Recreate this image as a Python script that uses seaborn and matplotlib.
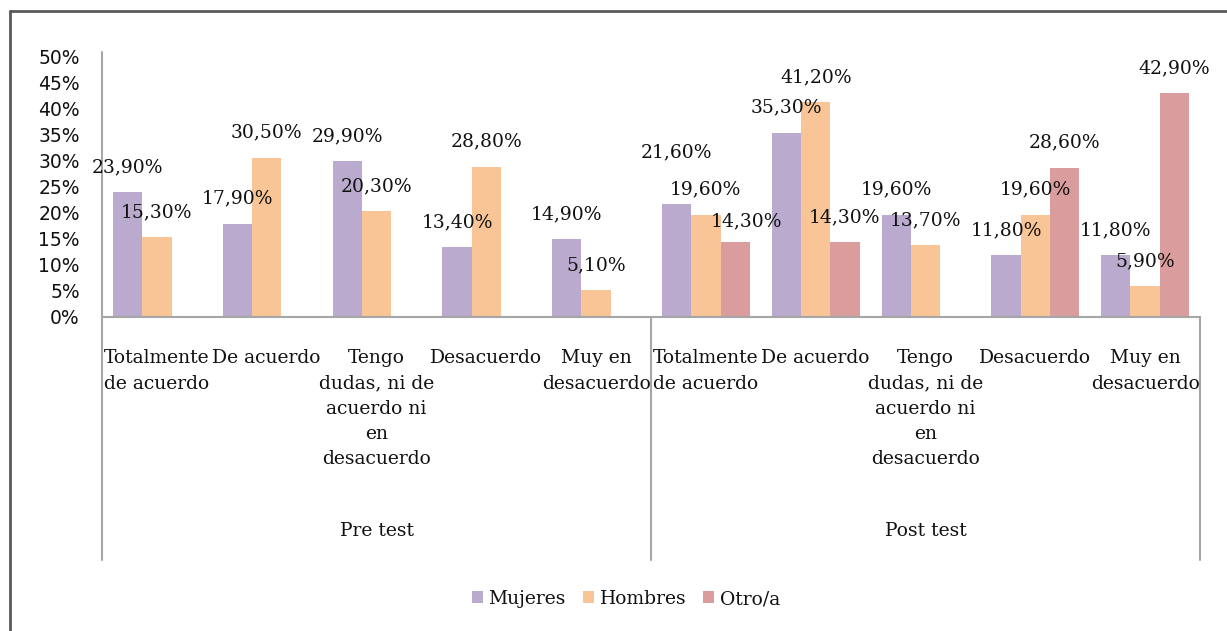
import matplotlib
matplotlib.use('Agg')
import matplotlib.pyplot as plt
import seaborn as sns
import pandas as pd
import numpy as np
from matplotlib.lines import Line2D

# datos
categorias = ['Totalmente\nde acuerdo', 'De acuerdo', 'Tengo\ndudas, ni de\nacuerdo ni\nen\ndesacuerdo',
              'Desacuerdo', 'Muy en\ndesacuerdo']
fases = ['Pre test', 'Post test']
series = ['Mujeres', 'Hombres', 'Otro/a']
mujeres = [23.9, 17.9, 29.9, 13.4, 14.9, 21.6, 35.3, 19.6, 11.8, 11.8]
hombres = [15.3, 30.5, 20.3, 28.8, 5.1, 19.6, 41.2, 13.7, 19.6, 5.9]
otro = [None, None, None, None, None, 14.3, 14.3, None, 28.6, 42.9]
colores = ['#B9AACE', '#FAC596', '#DA9C9C']

# etiquetas que en el original se movieron a mano (serie, posicion) -> desplazamiento en puntos
ajustes = {('Mujeres', 5): (0, 19), ('Otro/a', 5): (8, -3)}

filas = []
for i in range(10):
    for s, vals in zip(series, [mujeres, hombres, otro]):
        filas.append({'pos': i, 'serie': s, 'valor': vals[i]})
df = pd.DataFrame(filas)

sns.set_style('white')
plt.rcParams['font.family'] = ['DejaVu Serif']
plt.rcParams['text.color'] = '#111111'
plt.rcParams['ytick.color'] = '#111111'

fig = plt.figure(figsize=(12.27, 6.31), dpi=100)
ax = fig.add_axes([102 / 1227, (631 - 317) / 631, 1098 / 1227, 261 / 631])

ancho = 0.8 / 3
for k, (s, c) in enumerate(zip(series, colores)):
    sub = df[(df['serie'] == s) & df['valor'].notna()]
    x = sub['pos'].to_numpy() + (k - 1) * ancho
    ax.bar(x, sub['valor'].to_numpy() / 100, width=ancho, color=c, label=s, linewidth=0)
    for p, xi, v in zip(sub['pos'], x, sub['valor']):
        dx, dy = ajustes.get((s, p), (0, 0))
        ax.annotate(f'{v:.2f}%'.replace('.', ','), (xi, v / 100), xytext=(dx, 18 + dy),
                    textcoords='offset points', ha='center', va='center', fontsize=13.5)

ax.set_xlim(-0.5, 9.5)
ax.set_ylim(0, 0.5)
ticks = np.arange(0, 0.51, 0.05)
ax.set_yticks(ticks)
ax.set_yticklabels([f'{int(round(t * 100))}%' for t in ticks], fontfamily='DejaVu Sans', fontsize=13.5)
ax.tick_params(axis='y', length=0, pad=16)
ax.set_xticks([])
for sp in ['top', 'right', 'left']:
    ax.spines[sp].set_visible(False)
ax.spines['bottom'].set_color('#A6A6A6')
ax.spines['bottom'].set_linewidth(1.5)

tr = ax.get_xaxis_transform()
gris = '#A6A6A6'
ax.plot([-0.5, -0.5], [1.015, -0.931], transform=tr, color=gris, lw=1.5, clip_on=False)
ax.plot([4.5, 4.5], [0, -0.931], transform=tr, color=gris, lw=1.5, clip_on=False)
ax.plot([9.5, 9.5], [0, -0.931], transform=tr, color=gris, lw=1.5, clip_on=False)

# etiquetas de categoria en dos niveles
for i in range(10):
    ax.text(i, -0.124, categorias[i % 5], transform=tr, ha='center', va='top',
            fontsize=13.5, linespacing=1.52)
for j, f in enumerate(fases):
    ax.text(2 + 5 * j, -0.82, f, transform=tr, ha='center', va='center', fontsize=13.5)

fig.legend(loc='center', bbox_to_anchor=(626 / 1227, 1 - 599 / 631), ncol=3, frameon=False,
           fontsize=13.5, handlelength=0.6, handleheight=0.6, handletextpad=0.3,
           columnspacing=0.9)

# borde del area del grafico (recortado)
fig.add_artist(Line2D([10 / 1227, 10 / 1227], [0, 1 - 11 / 631], color='#595959', lw=2))
fig.add_artist(Line2D([10 / 1227, 1], [1 - 11 / 631, 1 - 11 / 631], color='#595959', lw=2))

fig.savefig('out.png', dpi=100)
